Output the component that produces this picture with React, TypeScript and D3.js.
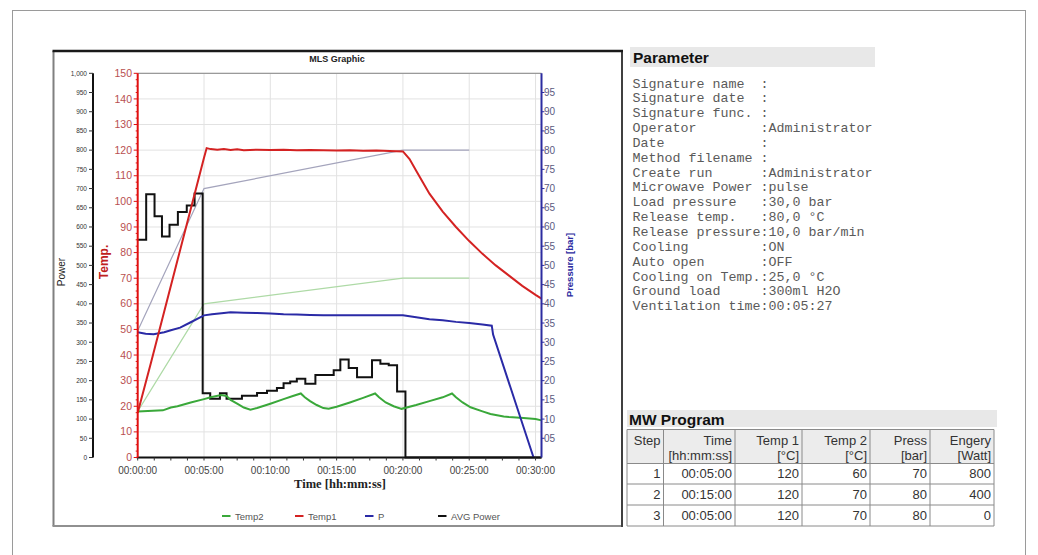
import React from 'react';
import * as d3 from 'd3';

// ---------- DATA (time in minutes) ----------
const timeTickValues = [0, 5, 10, 15, 20, 25, 30];
const timeTickLabels = ['00:00:00', '00:05:00', '00:10:00', '00:15:00', '00:20:00', '00:25:00', '00:30:00'];
const tempTicks = [0, 10, 20, 30, 40, 50, 60, 70, 80, 90, 100, 110, 120, 130, 140, 150];
const powerTicks = [0, 50, 100, 150, 200, 250, 300, 350, 400, 450, 500, 550, 600, 650, 700, 750, 800, 850, 900, 950, 1000];
const pressTicks = [5, 10, 15, 20, 25, 30, 35, 40, 45, 50, 55, 60, 65, 70, 75, 80, 85, 90, 95];

const temp1: [number, number][] = [
  [0, 17.5], [1, 37], [2, 57], [3, 77], [4, 97], [5, 117], [5.2, 120.8], [5.5, 120.4], [6, 120.2], [6.5, 120.4],
  [7, 120.1], [7.5, 120.3], [8, 120], [9, 120.2], [10, 120.1], [11, 120.2], [12, 120], [13, 120.1], [14, 120],
  [15, 119.9], [16, 120], [17, 119.8], [18, 119.9], [19, 119.7], [20, 119.5], [20.5, 116.5], [21, 112], [21.5, 107.5],
  [22, 103], [23, 96], [24, 90], [25, 84.5], [26, 79.5], [27, 75], [28, 71], [29, 67], [30, 63.5], [30.45, 62]
];

const temp2: [number, number][] = [
  [0, 18], [1.9, 18.4], [2.5, 19.5], [3, 20], [4, 21.5], [5, 22.8], [5.5, 23.5], [6.3, 24.4], [6.7, 24], [7, 22.5],
  [7.5, 21], [8, 19.5], [8.5, 18.7], [9, 19.3], [10, 21], [11, 22.8], [11.7, 24], [12.3, 25], [12.6, 23.5],
  [13, 22], [13.5, 20.5], [14, 19.3], [14.4, 19], [15, 19.8], [16, 21.5], [17, 23.3], [17.9, 25], [18.2, 23.5],
  [18.7, 21.5], [19.3, 20], [19.9, 19], [21, 20.5], [22, 22], [23, 23.5], [23.7, 25], [24, 23.5], [24.5, 21.5],
  [25.1, 19.6], [26, 18], [26.6, 17], [27.6, 16], [28, 15.8], [29.1, 15.4], [30, 15], [30.45, 14.5]
];

const pressure: [number, number][] = [
  [0, 32.6], [0.6, 32.2], [1.2, 32.1], [2, 32.6], [2.5, 33.1], [3.2, 33.8], [4, 35.2], [4.6, 36.3], [5, 37],
  [5.6, 37.3], [6.5, 37.6], [7, 37.8], [8, 37.7], [9, 37.6], [10, 37.5], [11, 37.3], [12, 37.2], [13, 37.1],
  [14, 37], [15, 37], [16, 37], [17, 37], [18, 37], [19, 37], [20, 37], [21, 36.5], [22, 36], [23, 35.7],
  [24, 35.3], [25, 35], [26, 34.6], [26.7, 34.3], [26.8, 32], [29.85, 0]
];

const power: [number, number][] = [
  [0, 567], [0.64, 685], [1.27, 628], [1.83, 575], [2.4, 606], [3.03, 639], [3.7, 656], [4.29, 687], [4.9, 167],
  [5.47, 153], [6.2, 167], [6.7, 153], [7.86, 161], [9.0, 168], [9.75, 174], [10.5, 181], [11.0, 193], [11.5, 198],
  [12.0, 205], [12.64, 192], [13.4, 215], [14.78, 227], [15.28, 255], [15.91, 233], [16.54, 209], [17.67, 253],
  [18.3, 244], [18.93, 240], [19.56, 172], [20.19, 0], [30.45, 0]
];

const temp2Target: [number, number][] = [[0, 18], [5, 60], [20, 70], [25, 70]];
const pressTarget: [number, number][] = [[0, 33], [5, 70], [20, 80], [25, 80]];

const paramLines = [
  'Signature name  :',
  'Signature date  :',
  'Signature func. :',
  'Operator        :Administrator',
  'Date            :',
  'Method filename :',
  'Create run      :Administrator',
  'Microwave Power :pulse',
  'Load pressure   :30,0 bar',
  'Release temp.   :80,0 °C',
  'Release pressure:10,0 bar/min',
  'Cooling         :ON',
  'Auto open       :OFF',
  'Cooling on Temp.:25,0 °C',
  'Ground load     :300ml H2O',
  'Ventilation time:00:05:27'
];

const mwHeader1 = ['Step', 'Time', 'Temp 1', 'Temp 2', 'Press', 'Engery'];
const mwHeader2 = ['', '[hh:mm:ss]', '[°C]', '[°C]', '[bar]', '[Watt]'];
const mwSteps = ['1', '2', '3'];
const mwTimes = ['00:05:00', '00:15:00', '00:05:00'];
const mwTemp1 = [120, 120, 120];
const mwTemp2 = [60, 70, 70];
const mwPress = [70, 80, 80];
const mwEnergy = [800, 400, 0];

const legendItems = [
  { label: 'Temp2', color: '#3aa83a' },
  { label: 'Temp1', color: '#d42222' },
  { label: 'P', color: '#2a2aa6' },
  { label: 'AVG Power', color: '#111111' }
];

export default function App() {
  const left = 137.7, right = 541.5, top = 73.3, bottom = 457.5;
  const x = d3.scaleLinear().domain([0, 30.45]).range([left, right]);
  const yT = d3.scaleLinear().domain([0, 150]).range([bottom, top]);
  const yW = d3.scaleLinear().domain([0, 1000]).range([bottom, top]);
  const yP = d3.scaleLinear().domain([0, 100]).range([bottom, top]);

  const lineT = d3.line<[number, number]>().x(d => x(d[0])).y(d => yT(d[1]));
  const lineP = d3.line<[number, number]>().x(d => x(d[0])).y(d => yP(d[1]));
  const lineW = d3.line<[number, number]>().x(d => x(d[0])).y(d => yW(d[1])).curve(d3.curveStepAfter);

  const minorX = d3.range(0, 30.01, 1.25);
  const minorT = d3.range(0, 150.01, 2.5);

  const sans = 'Liberation Sans, Arial, sans-serif';
  const legendX = [222, 295, 365, 438];

  // table geometry
  const colX = [627, 663.5, 735, 802, 870, 930, 994];
  const rowY = [429.5, 463.5, 484, 505, 526];
  const rows = mwSteps.map((s, i) => [s, mwTimes[i], String(mwTemp1[i]), String(mwTemp2[i]), String(mwPress[i]), String(mwEnergy[i])]);

  return (
    <div style={{ position: 'absolute', left: 0, top: 0 }}>
      <svg width={1038} height={555} fontFamily={sans} style={{ display: 'block' }}>
        <rect x={0} y={0} width={1038} height={555} fill="#fff" />
        {/* page frame */}
        <rect x={12.5} y={10.5} width={1013} height={600} fill="none" stroke="#9a9a9a" strokeWidth={1} />

        {/* chart box */}
        <line x1={53.5} y1={51} x2={53.5} y2={526} stroke="#808080" strokeWidth={2} />
        <line x1={52.5} y1={526} x2={622} y2={526} stroke="#909090" strokeWidth={2} />
        <line x1={622} y1={50} x2={622} y2={527} stroke="#404040" strokeWidth={2} />
        <line x1={52.5} y1={51} x2={623} y2={51} stroke="#1a1a1a" strokeWidth={2.5} />

        <text x={337} y={62} textAnchor="middle" fontSize={9} fontWeight="bold" fill="#222">MLS Graphic</text>

        {/* grid */}
        {tempTicks.map(t => (
          <line key={'h' + t} x1={left} x2={right} y1={yT(t)} y2={yT(t)} stroke="#e2e2e2" strokeWidth={1} />
        ))}
        {timeTickValues.slice(1).map(t => (
          <line key={'v' + t} x1={x(t)} x2={x(t)} y1={top} y2={bottom} stroke="#e2e2e2" strokeWidth={1} />
        ))}
        <line x1={left} x2={right} y1={top} y2={top} stroke="#9a9a9a" strokeWidth={1.2} />

        {/* target lines */}
        <path d={lineT(temp2Target) || ''} fill="none" stroke="#aedaa6" strokeWidth={1.2} />
        <path d={lineP(pressTarget) || ''} fill="none" stroke="#a4a4bc" strokeWidth={1.2} />

        {/* series */}
        <path d={lineW(power) || ''} fill="none" stroke="#111" strokeWidth={2} />
        <path d={lineT(temp2) || ''} fill="none" stroke="#3aa83a" strokeWidth={2} />
        <path d={lineP(pressure) || ''} fill="none" stroke="#2a2aa6" strokeWidth={2} />
        <path d={lineT(temp1) || ''} fill="none" stroke="#d42222" strokeWidth={2} />

        {/* x axis */}
        <line x1={left - 1} x2={right} y1={bottom} y2={bottom} stroke="#111" strokeWidth={2} />
        {minorX.map(t => (
          <line key={'xt' + t} x1={x(t)} x2={x(t)} y1={bottom} y2={bottom + 3} stroke="#333" strokeWidth={1} />
        ))}
        {timeTickValues.map((t, i) => (
          <text key={'xl' + t} x={x(t)} y={473.5} textAnchor="middle" fontSize={10} fill="#444">{timeTickLabels[i]}</text>
        ))}
        <text x={340} y={487.5} textAnchor="middle" fontSize={12.5} fontWeight="bold" fontFamily="Liberation Serif, Times New Roman, serif" fill="#222">Time [hh:mm:ss]</text>

        {/* power axis */}
        <line x1={93} x2={93} y1={top} y2={bottom} stroke="#111" strokeWidth={2} />
        {powerTicks.map(p => (
          <g key={'pw' + p}>
            <line x1={89} x2={93} y1={yW(p)} y2={yW(p)} stroke="#333" strokeWidth={1} />
            <text x={87} y={yW(p) + 2.3} textAnchor="end" fontSize={6.5} fill="#333">{d3.format(',')(p)}</text>
          </g>
        ))}
        <text transform="translate(65,272) rotate(-90)" textAnchor="middle" fontSize={10} fill="#222">Power</text>

        {/* temp axis */}
        {minorT.map(t => (
          <line key={'tm' + t} x1={left - (t % 10 === 0 ? 4 : 2)} x2={left} y1={yT(t)} y2={yT(t)} stroke="#e01010" strokeWidth={1} />
        ))}
        <line x1={left} x2={left} y1={top} y2={bottom} stroke="#e01010" strokeWidth={2} />
        {tempTicks.map(t => (
          <text key={'tl' + t} x={132} y={yT(t) + 3.6} textAnchor="end" fontSize={10.5} fill="#b85050">{t}</text>
        ))}
        <text transform="translate(108,262) rotate(-90)" textAnchor="middle" fontSize={12} fontWeight="bold" fill="#c02020">Temp.</text>

        {/* pressure axis */}
        <line x1={right} x2={right} y1={top} y2={bottom} stroke="#2c2ca0" strokeWidth={2} />
        {pressTicks.map(p => (
          <g key={'pr' + p}>
            <line x1={right} x2={right + 3} y1={yP(p)} y2={yP(p)} stroke="#2c2ca0" strokeWidth={1} />
            <text x={544} y={yP(p) + 3.5} fontSize={10} fill="#5a5a80">{d3.format('02d')(p)}</text>
          </g>
        ))}
        <text transform="translate(573,265) rotate(-90)" textAnchor="middle" fontSize={9.5} fontWeight="bold" fill="#2a2aa0">Pressure [bar]</text>

        {/* legend */}
        {legendItems.map((it, i) => (
          <g key={it.label}>
            <line x1={legendX[i]} x2={legendX[i] + 8.5} y1={516} y2={516} stroke={it.color} strokeWidth={2} />
            <text x={legendX[i] + 13} y={519.5} fontSize={9.5} fill="#555">{it.label}</text>
          </g>
        ))}

        {/* Parameter panel */}
        <rect x={630} y={47} width={245} height={20} fill="#e8e8e8" />
        <text x={633} y={62.5} fontSize={15.5} fontWeight="bold" fill="#111">Parameter</text>
        {paramLines.map((l, i) => (
          <text key={'pl' + i} x={632.5} y={87.5 + i * 14.85} fontSize={13.33} fontFamily="Liberation Mono, Courier New, monospace" fill="#5a5a5a" style={{ whiteSpace: 'pre' }}>{l}</text>
        ))}

        {/* MW Program */}
        <rect x={627} y={410} width={370} height={17} fill="#e8e8e8" />
        <text x={629} y={424.5} fontSize={15.5} fontWeight="bold" fill="#111">MW Program</text>
        <rect x={colX[0]} y={rowY[0]} width={colX[6] - colX[0]} height={rowY[1] - rowY[0]} fill="#ececec" />
        {rowY.map((yy, i) => (
          <line key={'rl' + i} x1={colX[0]} x2={colX[6]} y1={yy} y2={yy} stroke="#8a8a8a" strokeWidth={1} />
        ))}
        {colX.map((xx, i) => (
          <line key={'cl' + i} x1={xx} x2={xx} y1={rowY[0]} y2={rowY[4]} stroke="#8a8a8a" strokeWidth={1} />
        ))}
        {mwHeader1.map((h, i) => (
          <text key={'h1' + i} x={colX[i + 1] - 3} y={444.5} textAnchor="end" fontSize={13} fill="#333">{h}</text>
        ))}
        {mwHeader2.map((h, i) => (
          <text key={'h2' + i} x={colX[i + 1] - 3} y={459.5} textAnchor="end" fontSize={13} fill="#333">{h}</text>
        ))}
        {rows.map((r, ri) => r.map((c, ci) => (
          <text key={'c' + ri + '-' + ci} x={colX[ci + 1] - 3} y={(rowY[ri + 1] + rowY[ri + 2]) / 2 + 4.6} textAnchor="end" fontSize={13} fill="#333">{c}</text>
        )))}
      </svg>
    </div>
  );
}
